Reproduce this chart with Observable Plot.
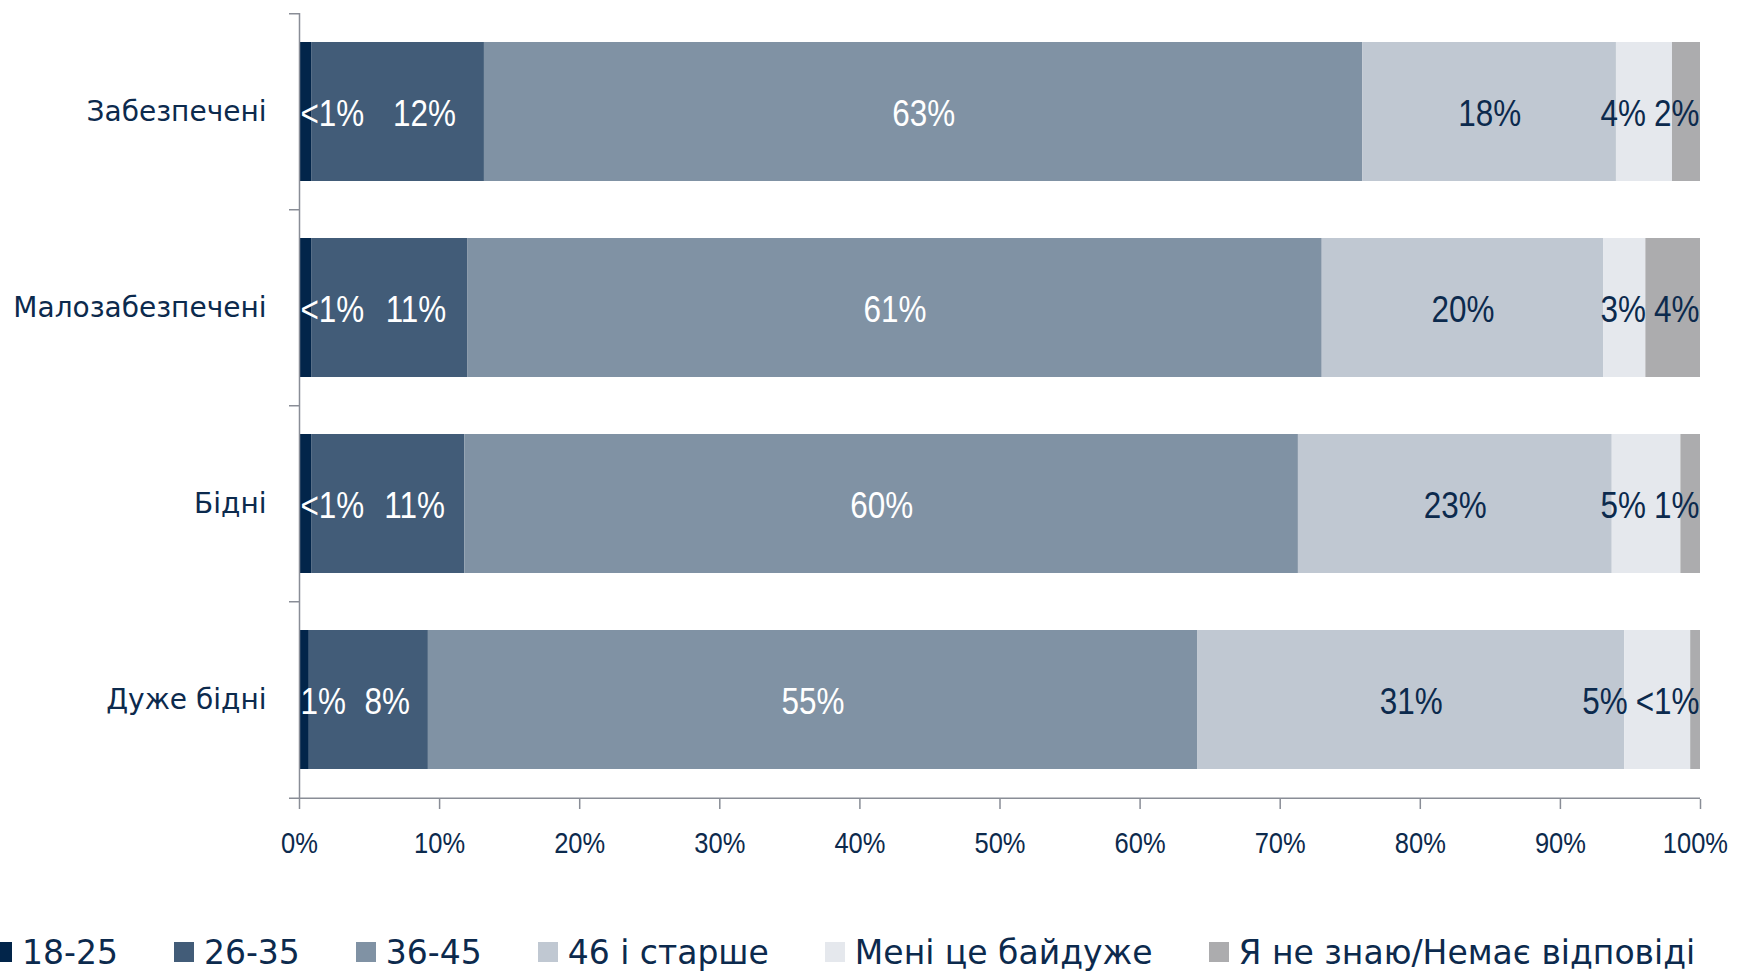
<!DOCTYPE html>
<html>
<head>
<meta charset="utf-8">
<script src="https://cdn.jsdelivr.net/npm/d3@7"></script>
<script src="https://cdn.jsdelivr.net/npm/@observablehq/plot@0.6"></script>
<style>
  html, body { margin: 0; padding: 0; background: #fff; }
  #chart svg { display: block; }
  #chart g[aria-label^="x-axis"] text {
    font-family: "Liberation Sans Narrow", "Liberation Sans", sans-serif;
    font-size: 30px; fill: #0c2a4d;
  }
  #chart g[aria-label^="x-axis"] line, #chart g[aria-label^="x-axis"] path { stroke: #898d96; stroke-width: 1.5px; }
  #chart g[aria-label^="y-axis"] text {
    font-family: "DejaVu Sans", sans-serif;
    font-size: 28px; fill: #0c2a4d;
  }
  #legend {
    display: flex; align-items: center; gap: 56px;
    margin: 32px 0 0 -8px; height: 40px;
    font-family: "DejaVu Sans", sans-serif;
    font-size: 33px; color: #0c2a4d; white-space: nowrap;
  }
  #legend .item { display: flex; align-items: center; gap: 10px; }
  #legend .sw { width: 20px; height: 20px; flex: none; }
</style>
</head>
<body>
<div id="chart"></div>
<script>
// ---- data ----
const categories = ["Забезпечені", "Малозабезпечені", "Бідні", "Дуже бідні"];
const seriesNames = ["18-25", "26-35", "36-45", "46 і старше", "Мені це байдуже", "Я не знаю/Немає відповіді"];

const v18_25  = [0.9, 0.9, 0.9, 0.7];
const v26_35  = [12.3, 11.1, 10.9, 8.5];
const v36_45  = [62.7, 61.0, 59.5, 54.9];
const v46plus = [18.1, 20.1, 22.4, 30.5];
const vIndiff = [4.0, 3.0, 4.9, 4.7];
const vDontKnow = [2.0, 3.9, 1.4, 0.7];

const l18_25  = ["<1%", "<1%", "<1%", "1%"];
const l26_35  = ["12%", "11%", "11%", "8%"];
const l36_45  = ["63%", "61%", "60%", "55%"];
const l46plus = ["18%", "20%", "23%", "31%"];
const lIndiff = ["4%", "3%", "5%", "5%"];
const lDontKnow = ["2%", "4%", "1%", "<1%"];

const xTicks = [0, 10, 20, 30, 40, 50, 60, 70, 80, 90, 100];

// ---- styling ----
const colors = ["#02254a", "#425c78", "#8092a4", "#c0c8d2", "#e5e8ed", "#acacae"];
const navy = "#0c2a4d";
const axisGray = "#898d96";
const narrowFamily = '"Liberation Sans Narrow", "Liberation Sans", sans-serif';
const labelSize = 37;

const W = 1740, H = 900, ML = 299, MR = 40, MT = 13, MB = 101;
const k = (W - ML - MR) / 100;            // px per percent
const step = (H - MT - MB) / categories.length;

// narrow font available? otherwise squeeze glyphs horizontally
const probe = document.createElement("canvas").getContext("2d");
probe.font = '36px "Liberation Sans Narrow", monospace';
const wa = probe.measureText("10% abc").width;
probe.font = '36px monospace';
const wb = probe.measureText("10% abc").width;
const hasNarrow = Math.abs(wa - wb) > 0.5;
const squeezeLabels = hasNarrow ? 1 : 0.85;
const squeezeTicks = hasNarrow ? 1 : 0.85;

const seriesValues = [v18_25, v26_35, v36_45, v46plus, vIndiff, vDontKnow];
const seriesLabels = [l18_25, l26_35, l36_45, l46plus, lIndiff, lDontKnow];

const rows = seriesNames.flatMap((s, si) =>
  categories.map((c, ci) => ({cat: c, series: s, value: seriesValues[si][ci]})));

// label placement (Excel-like: avoid overlaps of small segments)
const ctx = document.createElement("canvas").getContext("2d");
ctx.font = `${labelSize}px ${narrowFamily}`;
const tw = t => ctx.measureText(t).width * squeezeLabels;
const px = v => ML + v * k;
const unpx = p => (p - ML) / k;

const labels = [];
categories.forEach((c, ci) => {
  const vals = seriesValues.map(v => v[ci]);
  const starts = vals.map((_, i) => d3.sum(vals.slice(0, i)));
  const ends = starts.map((s, i) => s + vals[i]);
  const T = seriesLabels.map(l => l[ci]);
  const x0 = px(starts[0]) + 1;
  labels.push({cat: c, text: T[0], x: unpx(x0), anchor: "start", white: true});
  const end0 = x0 + tw(T[0]);
  labels.push({cat: c, text: T[1], x: unpx((end0 + px(ends[1])) / 2), anchor: "middle", white: true});
  labels.push({cat: c, text: T[2], x: (starts[2] + ends[2]) / 2, anchor: "middle", white: true});
  labels.push({cat: c, text: T[3], x: (starts[3] + ends[3]) / 2, anchor: "middle", white: false});
  const lastRight = px(ends[5]) - 1;
  labels.push({cat: c, text: T[5], x: unpx(lastRight), anchor: "end", white: false});
  const lastLeft = lastRight - tw(T[5]);
  const r4 = Math.min(px((starts[4] + ends[4]) / 2) + tw(T[4]) / 2, lastLeft - 8);
  labels.push({cat: c, text: T[4], x: unpx(r4), anchor: "end", white: false});
});

const textMarks = [];
for (const anchor of ["start", "middle", "end"]) {
  for (const white of [true, false]) {
    const data = labels.filter(d => d.anchor === anchor && d.white === white);
    if (!data.length) continue;
    textMarks.push(Plot.text(data, {
      x: "x", y: "cat", text: "text", textAnchor: anchor, dy: 2,
      fill: white ? "#ffffff" : navy, fontSize: labelSize, fontFamily: narrowFamily
    }));
  }
}

const chart = Plot.plot({
  width: W, height: H,
  marginLeft: ML, marginRight: MR, marginTop: MT, marginBottom: MB,
  style: {background: "#fff", color: navy, fontFamily: narrowFamily, overflow: "visible"},
  x: {domain: [0, 100], ticks: xTicks, tickFormat: d => d + "%", tickSize: 10, tickPadding: 22, label: null},
  y: {domain: categories, paddingInner: 0.29, paddingOuter: 0.145, tickSize: 0, tickPadding: 33, label: null},
  color: {domain: seriesNames, range: colors},
  marks: [
    Plot.barX(rows, Plot.stackX({x: "value", y: "cat", fill: "series"})),
    Plot.ruleX([0], {stroke: axisGray, strokeWidth: 1.5}),
    Plot.ruleY(categories, {y: d => d, dy: -step / 2, x1: -10 / k, x2: 0, stroke: axisGray, strokeWidth: 1.5}),
    Plot.ruleY(categories.slice(-1), {y: d => d, dy: step / 2, x1: -10 / k, x2: 100, stroke: axisGray, strokeWidth: 1.5}),
    ...textMarks
  ]
});
document.getElementById("chart").appendChild(chart);

// condense narrow-font texts when the narrow face is not installed
function condense(selector, factor) {
  if (factor === 1) return;
  chart.querySelectorAll(selector).forEach(t => {
    const len = t.getComputedTextLength();
    if (len > 0) {
      t.setAttribute("textLength", (len * factor).toFixed(2));
      t.setAttribute("lengthAdjust", "spacingAndGlyphs");
    }
  });
}
condense('g[aria-label="text"] text', squeezeLabels);
condense('g[aria-label^="x-axis"] text', squeezeTicks);

// keep the last tick label clear of the right edge
chart.querySelectorAll('g[aria-label^="x-axis"] text').forEach(t => {
  const r = t.getBoundingClientRect();
  const over = r.right - (W - 12);
  if (over > 0) {
    const cur = parseFloat(t.getAttribute("x") || 0);
    t.setAttribute("x", cur - over);
  }
});

// legend
const legend = d3.select("body").append("div").attr("id", "legend");
seriesNames.forEach((s, i) => {
  const item = legend.append("div").attr("class", "item");
  item.append("span").attr("class", "sw").style("background", colors[i]);
  item.append("span").text(s);
});
</script>
</body>
</html>
